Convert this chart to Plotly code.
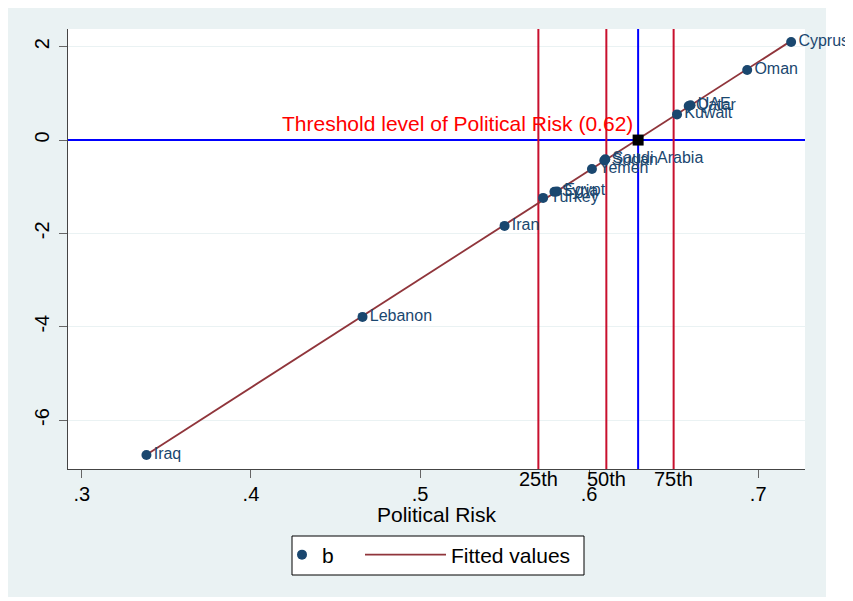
import numpy as np
import plotly.graph_objects as go

# ---- data ----
country = ["Iraq", "Lebanon", "Iran", "Turkey", "Syria", "Egypt", "Yemen",
           "Sudan", "Saudi Arabia", "Kuwait", "Qatar", "UAE", "Oman", "Cyprus"]
political_risk = [0.3382, 0.4660, 0.5500, 0.5728, 0.5795, 0.5810, 0.6017,
                  0.6090, 0.6096, 0.6520, 0.6589, 0.6600, 0.6935, 0.7195]
b = [-6.75, -3.79, -1.84, -1.24, -1.11, -1.10, -0.62,
     -0.44, -0.41, 0.55, 0.73, 0.745, 1.50, 2.10]

pct_labels = ["25th", "50th", "75th"]
pct_values = [0.5700, 0.6102, 0.6500]

threshold_x = [0.629]
threshold_y = [0.0]
threshold_text = "Threshold level of Political Risk (0.62)"

x_title = "Political Risk"
x_tickvals = [0.3, 0.4, 0.5, 0.6, 0.7]
x_ticktext = [".3", ".4", ".5", ".6", ".7"]
y_tickvals = [2, 0, -2, -4, -6]
y_ticktext = ["2", "0", "-2", "-4", "-6"]

X_RANGE = [0.2918, 0.7277]
Y_RANGE = [-7.05, 2.38]

# ---- styles ----
FONT = "Liberation Sans, Arial, Helvetica, sans-serif"
NAVY = "#1a476f"
MAROON = "#90353b"
CRIMSON = "#c8102e"
BLUE = "#0000ff"
BG = "#eaf2f3"

# page body has an 8px margin: lay out in reference pixel coords minus 8
OFF = 8
W, H = 853 - OFF, 601 - OFF
PL, PR, PT, PB = 68, 805, 29, 469          # plot box in reference pixels
L, T = PL - OFF, PT - OFF
R, B = W - (PR - OFF), H - (PB - OFF)
pw, ph = PR - PL, PB - PT


def px(xr):
    return (xr - PL) / pw


def py(yr):
    return (PB - yr) / ph


# fitted values (linear fit of b on political risk)
coef = np.polyfit(political_risk, b, 1)
fit_x = np.array([min(political_risk), max(political_risk)])
fit_y = np.polyval(coef, fit_x)

fig = go.Figure()

# reference lines (as traces so the markers sit on top)
fig.add_trace(go.Scatter(x=X_RANGE, y=[threshold_y[0]] * 2, mode="lines",
                         line=dict(color=BLUE, width=2), showlegend=False,
                         hoverinfo="skip"))
for tx in threshold_x:
    fig.add_trace(go.Scatter(x=[tx, tx], y=Y_RANGE, mode="lines",
                             line=dict(color=BLUE, width=2), showlegend=False,
                             hoverinfo="skip"))
for pv in pct_values:
    fig.add_trace(go.Scatter(x=[pv, pv], y=Y_RANGE, mode="lines",
                             line=dict(color=CRIMSON, width=2), showlegend=False,
                             hoverinfo="skip"))

fig.add_trace(go.Scatter(
    x=fit_x, y=fit_y, mode="lines", name="Fitted values",
    line=dict(color=MAROON, width=1.8),
    legend="legend2", showlegend=True,
))
fig.add_trace(go.Scatter(
    x=political_risk, y=b, mode="markers+text", name="b",
    text=country, textposition="middle right", cliponaxis=False,
    textfont=dict(family=FONT, size=16, color=NAVY),
    marker=dict(color=NAVY, size=10),
    legend="legend", showlegend=True,
))
fig.add_trace(go.Scatter(
    x=threshold_x, y=threshold_y, mode="markers", showlegend=False,
    marker=dict(symbol="square", color="black", size=11),
))

shapes = []
# white margins around grey graph region
for (x0, x1, y0, y1) in [(826, 900, -20, 640), (-20, 900, 597, 640)]:
    shapes.append(dict(type="rect", xref="paper", yref="paper",
                       x0=px(x0), x1=px(x1), y0=py(y0), y1=py(y1),
                       fillcolor="white", line=dict(width=0), layer="below"))
# legend box
shapes.append(dict(type="rect", xref="paper", yref="paper",
                   x0=px(292), x1=px(584), y0=py(536), y1=py(575),
                   fillcolor="white", line=dict(color="black", width=1), layer="below"))

annotations = []
for tx, ty in zip(threshold_x, threshold_y):
    annotations.append(dict(x=tx, y=ty, xref="x", yref="y", text=threshold_text,
                            showarrow=False, xanchor="right", yanchor="bottom",
                            xshift=-3, yshift=3,
                            font=dict(family=FONT, size=21, color="#ff0000")))
for lab, pv in zip(pct_labels, pct_values):
    annotations.append(dict(x=pv, y=0, xref="x", yref="paper", text=lab,
                            showarrow=False, xanchor="center", yanchor="top",
                            yshift=3, font=dict(family=FONT, size=20, color="black")))
# x-axis title
annotations.append(dict(x=0.5, y=py(514), xref="paper", yref="paper", text=x_title,
                        showarrow=False, xanchor="center", yanchor="middle",
                        font=dict(family=FONT, size=21, color="black")))

fig.update_layout(
    width=W, height=H, autosize=False,
    margin=dict(l=L, r=R, t=T, b=B, pad=0),
    paper_bgcolor=BG, plot_bgcolor="white",
    font=dict(family=FONT, size=20, color="black"),
    shapes=shapes, annotations=annotations,
    legend=dict(orientation="h", x=px(282), xanchor="left", y=py(555), yanchor="middle",
                bgcolor="rgba(0,0,0,0)", borderwidth=0,
                font=dict(family=FONT, size=21, color="black")),
    legend2=dict(orientation="h", x=px(360), xanchor="left", y=py(555), yanchor="middle",
                 bgcolor="rgba(0,0,0,0)", borderwidth=0, itemwidth=81,
                 font=dict(family=FONT, size=21, color="black")),
    xaxis=dict(range=X_RANGE, tickvals=x_tickvals, ticktext=x_ticktext,
               showgrid=False, zeroline=False, showline=True, linecolor="#444",
               linewidth=1.3, ticks="outside", ticklen=8, tickcolor="#666",
               ticklabelstandoff=-1,
               tickfont=dict(family=FONT, size=20, color="black")),
    yaxis=dict(range=Y_RANGE, tickvals=y_tickvals, ticktext=y_ticktext,
               showgrid=True, gridcolor=BG, gridwidth=1.2, zeroline=False,
               showline=True, linecolor="#444", linewidth=1.3,
               ticks="outside", ticklen=8, tickcolor="#666", tickangle=-90,
               ticklabelstandoff=2,
               tickfont=dict(family=FONT, size=20, color="black")),
)

fig.write_html("out.html")
